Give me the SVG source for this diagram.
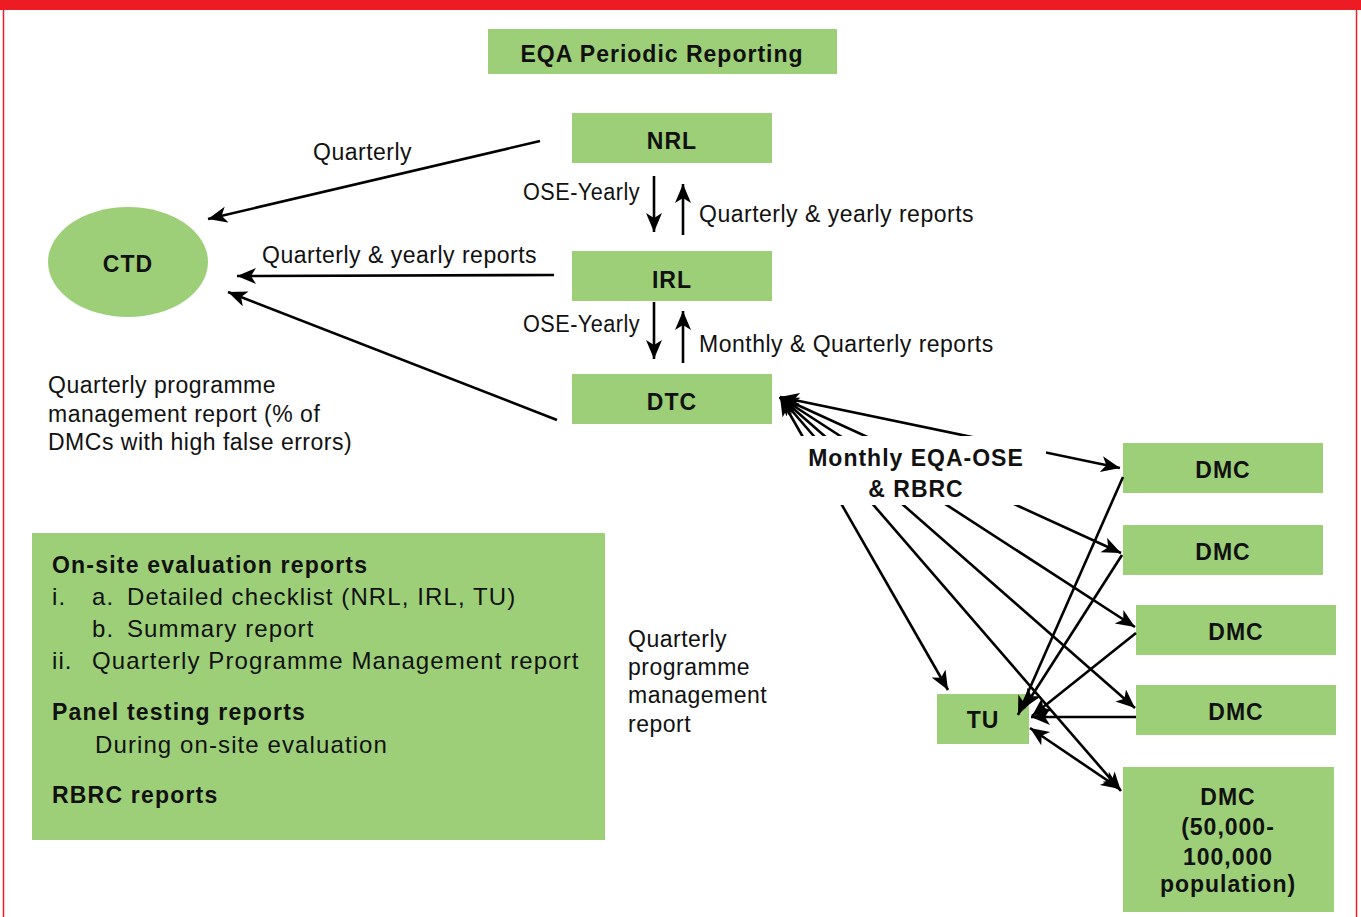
<svg xmlns="http://www.w3.org/2000/svg" width="1361" height="917" viewBox="0 0 1361 917">
<style>
.box{fill:#9DCF78}
.b{font-family:"Liberation Sans",Arial,sans-serif;font-weight:bold;font-size:23px;letter-spacing:1px;fill:#111}
.r{font-family:"Liberation Sans",Arial,sans-serif;font-size:23px;letter-spacing:0.5px;fill:#111}
.br{font-family:"Liberation Sans",Arial,sans-serif;font-size:24px;letter-spacing:1.1px;fill:#111}
.bb{font-family:"Liberation Sans",Arial,sans-serif;font-weight:bold;font-size:23px;letter-spacing:1.2px;fill:#111}
.c{text-anchor:middle}
.ln{stroke:#000;stroke-width:2.6;fill:none}
.e{marker-end:url(#ah)}
.d{marker-end:url(#ah);marker-start:url(#ahs)}
</style>
<defs>
<marker id="ah" markerUnits="userSpaceOnUse" markerWidth="22" markerHeight="18" refX="19" refY="8" orient="auto"><path d="M0,0 L19,8 L0,16 L5,8 z" fill="#000"/></marker>
<marker id="ahs" markerUnits="userSpaceOnUse" markerWidth="22" markerHeight="18" refX="19" refY="8" orient="auto-start-reverse"><path d="M0,0 L19,8 L0,16 L5,8 z" fill="#000"/></marker>
</defs>
<rect x="0" y="0" width="1361" height="917" fill="#fff"/>
<rect x="3.5" y="0" width="1353" height="930" fill="none" stroke="#ED1C24" stroke-width="1.5"/>
<rect x="0" y="0" width="1361" height="10" fill="#ED1C24"/>

<g id="title"><rect class="box" x="488" y="29" width="349" height="45"/><text class="b c" x="662" y="62">EQA Periodic Reporting</text></g>
<g id="nrl"><rect class="box" x="572" y="113" width="200" height="50"/><text class="b c" x="672" y="149">NRL</text></g>
<g id="irl"><rect class="box" x="572" y="251" width="200" height="50"/><text class="b c" x="672" y="288">IRL</text></g>
<g id="dtc"><rect class="box" x="572" y="374" width="200" height="50"/><text class="b c" x="672" y="410">DTC</text></g>
<g id="ctd"><ellipse class="box" cx="128" cy="262" rx="80" ry="55"/><text class="b c" x="128" y="272">CTD</text></g>
<g id="dmc1"><rect class="box" x="1123" y="443" width="200" height="50"/><text class="b c" x="1223" y="478">DMC</text></g>
<g id="dmc2"><rect class="box" x="1123" y="525" width="200" height="50"/><text class="b c" x="1223" y="560">DMC</text></g>
<g id="dmc3"><rect class="box" x="1136" y="605" width="200" height="50"/><text class="b c" x="1236" y="640">DMC</text></g>
<g id="dmc4"><rect class="box" x="1136" y="685" width="200" height="50"/><text class="b c" x="1236" y="720">DMC</text></g>
<g id="dmc5"><rect class="box" x="1123" y="767" width="211" height="145"/><text class="b c" x="1228" y="805">DMC</text><text class="b c" x="1228" y="835">(50,000-</text><text class="b c" x="1228" y="865">100,000</text><text class="b c" x="1228" y="892">population)</text></g>
<g id="tu"><rect class="box" x="937" y="694" width="92" height="50"/><text class="b c" x="983" y="728">TU</text></g>

<g id="legend"><rect class="box" x="32" y="533" width="573" height="307"/>
<text class="bb" x="52" y="573">On-site evaluation reports</text>
<text class="br" x="52" y="605">i.</text><text class="br" x="92" y="605">a.</text><text class="br" x="127" y="605">Detailed checklist (NRL, IRL, TU)</text>
<text class="br" x="92" y="637">b.</text><text class="br" x="127" y="637">Summary report</text>
<text class="br" x="52" y="669">ii.</text><text class="br" x="92" y="669">Quarterly Programme Management report</text>
<text class="bb" x="52" y="720">Panel testing reports</text>
<text class="br" x="95" y="753">During on-site evaluation</text>
<text class="bb" x="52" y="803">RBRC reports</text>
</g>

<g id="connectors">
<line class="ln e" x1="540" y1="141" x2="208" y2="219"/>
<line class="ln e" x1="554" y1="275" x2="237" y2="276"/>
<line class="ln e" x1="557" y1="420" x2="228" y2="292"/>
<line class="ln e" x1="654" y1="176" x2="654" y2="232"/>
<line class="ln e" x1="683" y1="235" x2="683" y2="184"/>
<line class="ln e" x1="654" y1="302" x2="654" y2="359"/>
<line class="ln e" x1="683" y1="363" x2="683" y2="311"/>

<line class="ln d" x1="780" y1="397" x2="948" y2="690"/>
<line class="ln d" x1="780" y1="397" x2="1121" y2="791"/>
<line class="ln d" x1="780" y1="397" x2="1135" y2="708"/>
<line class="ln d" x1="780" y1="397" x2="1135" y2="627"/>
<line class="ln d" x1="780" y1="397" x2="1121" y2="553"/>
<line class="ln d" x1="780" y1="397" x2="1120" y2="468"/>

<line class="ln e" x1="1123" y1="477" x2="1018" y2="715"/>
<line class="ln e" x1="1122" y1="555" x2="1024" y2="708"/>
<line class="ln e" x1="1136" y1="633" x2="1032" y2="716"/>
<line class="ln e" x1="1136" y1="717" x2="1031" y2="717"/>
<line class="ln d" x1="1030" y1="728" x2="1120" y2="789"/>

<rect x="795" y="436" width="251" height="69" fill="#fff"/>
<text class="b c" x="916" y="466">Monthly EQA-OSE</text>
<text class="b c" x="916" y="497">&amp; RBRC</text>

<text class="r" x="313" y="160">Quarterly</text>
<text class="r" x="262" y="263">Quarterly &amp; yearly reports</text>
<text class="r" x="523" y="200" textLength="117" lengthAdjust="spacingAndGlyphs">OSE-Yearly</text>
<text class="r" x="699" y="222">Quarterly &amp; yearly reports</text>
<text class="r" x="523" y="332" textLength="117" lengthAdjust="spacingAndGlyphs">OSE-Yearly</text>
<text class="r" x="699" y="352">Monthly &amp; Quarterly reports</text>
</g>

<g id="notes">
<text class="r" x="48" y="393">Quarterly programme</text>
<text class="r" x="48" y="422">management report (% of</text>
<text class="r" x="48" y="450">DMCs with high false errors)</text>
<text class="r" x="628" y="647">Quarterly</text>
<text class="r" x="628" y="675">programme</text>
<text class="r" x="628" y="703">management</text>
<text class="r" x="628" y="732">report</text>
</g>
</svg>
